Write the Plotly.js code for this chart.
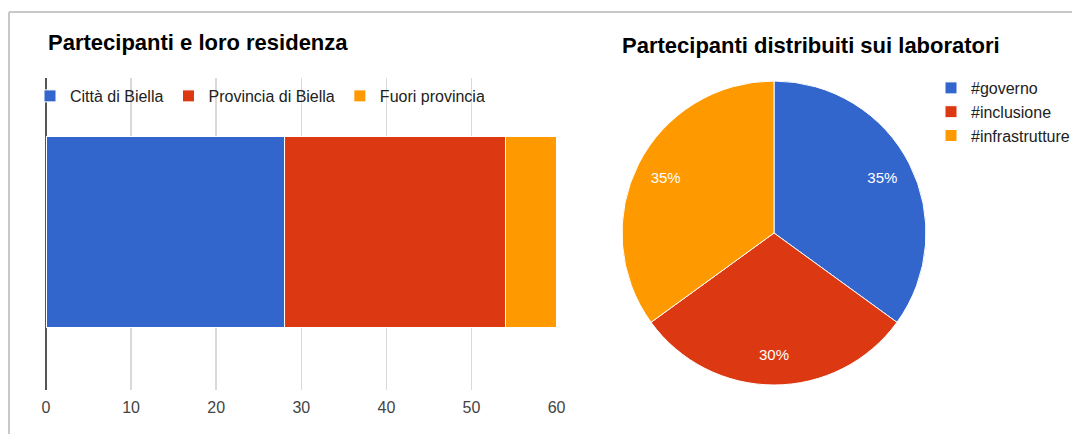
<!DOCTYPE html>
<html>
<head>
<meta charset="utf-8">
<script src="https://cdn.plot.ly/plotly-3.0.1.min.js"></script>
<style>
html, body { margin: 0; padding: 0; background: #fff; overflow: hidden; }
#chart { width: 1072px; height: 434px; }
</style>
</head>
<body>
<div id="chart"></div>
<script>
// Data
const residenceCategories = ['Città di Biella', 'Provincia di Biella', 'Fuori provincia'];
const residenceValues = [28, 26, 6];
const residenceColors = ['#3366cc', '#dc3912', '#ff9900'];

const labCategories = ['#governo', '#inclusione', '#infrastrutture'];
const labValues = [7, 6, 7];
const labColors = ['#3366cc', '#dc3912', '#ff9900'];

const xTickVals = [0, 10, 20, 30, 40, 50, 60];

const W = 1072, H = 434;
const px = v => v / W;
const py = v => 1 - v / H;
const FONT = 'Liberation Sans, Arial, sans-serif';
const pieDomain = { x: [px(622), px(926)], y: [py(385), py(81)] };

const traces = residenceCategories.map((name, i) => ({
  type: 'bar',
  orientation: 'h',
  name: name,
  x: [residenceValues[i]],
  y: ['Partecipanti'],
  marker: { color: residenceColors[i], line: { color: '#ffffff', width: 1 } },
  legend: 'legend',
  hoverinfo: 'skip'
}));

// Pie slices
traces.push({
  type: 'pie',
  labels: labCategories,
  values: labValues,
  sort: false,
  direction: 'clockwise',
  rotation: 0,
  marker: { colors: labColors, line: { color: '#ffffff', width: 1 } },
  textinfo: 'none',
  domain: pieDomain,
  legend: 'legend2',
  hoverinfo: 'skip'
});

// Transparent ring carrying the percentage labels further out
traces.push({
  type: 'pie',
  labels: labCategories,
  values: labValues,
  sort: false,
  direction: 'clockwise',
  rotation: 0,
  hole: 0.6,
  marker: { colors: ['rgba(0,0,0,0)', 'rgba(0,0,0,0)', 'rgba(0,0,0,0)'], line: { width: 0 } },
  textinfo: 'percent',
  textposition: 'inside',
  insidetextorientation: 'horizontal',
  textfont: { color: '#ffffff', size: 15, family: FONT },
  domain: pieDomain,
  showlegend: false,
  hoverinfo: 'skip'
});

const layout = {
  width: W,
  height: H,
  margin: { l: 0, r: 0, t: 0, b: 0, pad: 0, autoexpand: false },
  paper_bgcolor: '#ffffff',
  plot_bgcolor: 'rgba(0,0,0,0)',
  font: { family: FONT, size: 16, color: '#222222' },
  barmode: 'stack',
  bargap: 0.39,
  xaxis: {
    domain: [px(46), px(557)],
    range: [0, 60.05],
    tickvals: xTickVals,
    showgrid: true,
    gridcolor: '#d9d9d9',
    gridwidth: 1.5,
    zeroline: true,
    zerolinecolor: '#555555',
    zerolinewidth: 1.5,
    showline: false,
    ticks: '',
    ticklabelstandoff: 6,
    tickfont: { size: 16, color: '#444444' },
    fixedrange: true
  },
  yaxis: {
    domain: [py(390), py(78)],
    range: [-0.506, 0.494],
    showticklabels: false,
    showgrid: false,
    zeroline: false,
    showline: false,
    ticks: '',
    fixedrange: true
  },
  legend: {
    orientation: 'h',
    x: px(30),
    xanchor: 'left',
    y: py(79),
    yanchor: 'top',
    bgcolor: 'rgba(0,0,0,0)',
    font: { size: 16, color: '#222222' },
    traceorder: 'normal'
  },
  legend2: {
    orientation: 'v',
    x: px(931),
    xanchor: 'left',
    y: py(71),
    yanchor: 'top',
    bgcolor: 'rgba(0,0,0,0)',
    font: { size: 16, color: '#222222' }
  },
  annotations: [
    {
      text: '<b>Partecipanti e loro residenza</b>',
      xref: 'paper', yref: 'paper',
      x: px(46), y: py(43),
      xanchor: 'left', yanchor: 'middle',
      showarrow: false,
      font: { size: 22, color: '#000000', family: FONT }
    },
    {
      text: '<b>Partecipanti distribuiti sui laboratori</b>',
      xref: 'paper', yref: 'paper',
      x: px(620), y: py(46),
      xanchor: 'left', yanchor: 'middle',
      showarrow: false,
      font: { size: 22, color: '#000000', family: FONT }
    }
  ],
  shapes: [
    { type: 'line', xref: 'paper', yref: 'paper', x0: px(9), x1: 1, y0: py(12), y1: py(12), line: { color: '#c8c8c8', width: 2 } },
    { type: 'line', xref: 'paper', yref: 'paper', x0: px(9), x1: px(9), y0: py(12), y1: 0, line: { color: '#c8c8c8', width: 2 } }
  ],
  showlegend: true
};

Plotly.newPlot('chart', traces, layout, { displayModeBar: false, staticPlot: true });
</script>
</body>
</html>
